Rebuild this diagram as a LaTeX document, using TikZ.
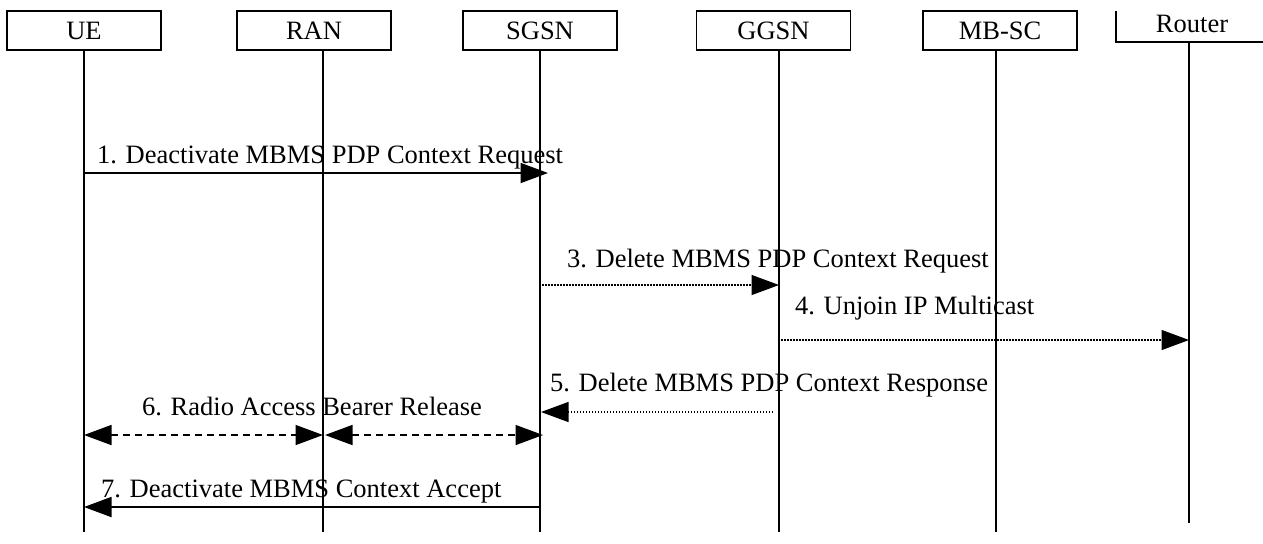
\documentclass[tikz,border=0pt]{standalone}
\usepackage{fontspec}
\setmainfont{Liberation Serif}
\usetikzlibrary{arrows.meta}
\begin{document}
\begin{tikzpicture}[x=0.4pt,y=-0.4pt,
  every node/.style={font=\fontsize{10.6}{12}\selectfont, inner sep=0pt, outer sep=0pt},
  entity/.style={draw, line width=0.7pt, minimum width=61.6pt, minimum height=15.6pt},
  life/.style={line width=0.7pt},
  msglabel/.style={anchor=base west},
  tip/.style={-{Triangle[length=11pt,width=8pt]}},
  solidmsg/.style={tip, line width=0.7pt},
  dotmsg/.style={tip, line width=0.5pt, dash pattern=on 0.6pt off 0.6pt},
  dashmsg/.style={{Triangle[length=11pt,width=8pt]}-{Triangle[length=11pt,width=8pt]}, line width=0.6pt, dash pattern=on 2.8pt off 2pt}
]
\useasboundingbox (0,0) rectangle (1263,543);

% entity boxes
\node[entity] (ue)   at (84,30.5)  {UE};
\node[entity] (ran)  at (314,30.5) {RAN};
\node[entity] (sgsn) at (540,30.5) {SGSN};
\node[entity] (ggsn) at (773.5,30.5) {GGSN};
\node[entity] (mbsc) at (1000,30.5) {MB-SC};
\node[anchor=base] (router) at (1192,32) {Router};
\draw[life] (1116,11) -- (1116,42) -- (1263,42);

% lifelines
\coordinate (ueT) at (84,50);     \coordinate (ueB) at (84,532);
\coordinate (ranT) at (323,50);   \coordinate (ranB) at (323,532);
\coordinate (sgT) at (540,50);    \coordinate (sgB) at (540,532);
\coordinate (ggT) at (779,50);    \coordinate (ggB) at (779,532);
\coordinate (mbT) at (996,50);    \coordinate (mbB) at (996,532);
\coordinate (rtT) at (1189,42);   \coordinate (rtB) at (1189,523);
\draw[life] (ueT) -- (ueB);
\draw[life] (ranT) -- (ranB);
\draw[life] (sgT) -- (sgB);
\draw[life] (ggT) -- (ggB);
\draw[life] (mbT) -- (mbB);
\draw[life] (rtT) -- (rtB);

% message end points
\coordinate (m1a) at (84,173);   \coordinate (m1b) at (548,173);
\coordinate (m3a) at (542,285);  \coordinate (m3b) at (779,285);
\coordinate (m4a) at (781,340);  \coordinate (m4b) at (1189,340);
\coordinate (m5a) at (773,412);  \coordinate (m5b) at (541,412);
\coordinate (m6a) at (84,435);   \coordinate (m6b) at (323,435);
\coordinate (m6c) at (325,435);  \coordinate (m6d) at (543,435);
\coordinate (m7a) at (540,507);  \coordinate (m7b) at (84,507);

% messages
\draw[solidmsg] (m1a) -- (m1b);
\node[msglabel] (t1) at (97,163) {1. Deactivate MBMS PDP Context Request};

\draw[dotmsg] (m3a) -- (m3b);
\node[msglabel] (t3) at (567,267) {3. Delete MBMS PDP Context Request};

\draw[dotmsg] (m4a) -- (m4b);
\node[msglabel] (t4) at (795,314) {4. Unjoin IP Multicast};

\draw[dotmsg] (m5a) -- (m5b);
\node[msglabel] (t5) at (550,391) {5. Delete MBMS PDP Context Response};

\draw[dashmsg] (m6a) -- (m6b);
\draw[dashmsg] (m6c) -- (m6d);
\node[msglabel] (t6) at (142,415) {6. Radio Access Bearer Release};

\draw[solidmsg] (m7a) -- (m7b);
\node[msglabel] (t7) at (101,497) {7. Deactivate MBMS Context Accept};
\end{tikzpicture}
\end{document}
